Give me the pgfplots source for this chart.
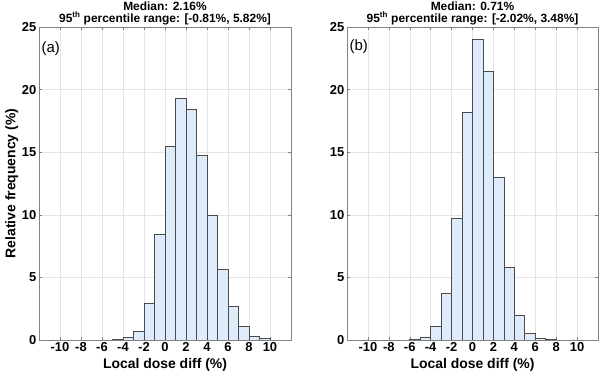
\documentclass[border=0pt]{standalone}
\usepackage{fontspec}
\setmainfont{Liberation Sans}
\usepackage{pgfplots}
\pgfplotsset{compat=1.18}

\definecolor{barfill}{RGB}{221,235,250}
\definecolor{baredge}{RGB}{75,75,75}
\definecolor{framecol}{RGB}{130,130,130}
\definecolor{gridcol}{RGB}{228,228,228}

\pgfplotsset{
  histaxis/.style={
    scale only axis, height=313bp,
    xmin=-12, xmax=12, ymin=0, ymax=25,
    xtick={-10,-8,...,10}, ytick={0,5,...,25},
    grid=major, major grid style={draw=gridcol, line width=0.5bp},
    axis line style={draw=framecol, line width=0.6bp},
    tick style={draw=framecol, line width=0.5bp},
    tick align=inside, major tick length=3bp,
    /pgf/number format/assume math mode=true,
    tick label style={font=\fontsize{13}{15}\selectfont\bfseries, text=black},
    xticklabel style={inner sep=2bp},
    yticklabel style={inner sep=2.5bp},
    xlabel style={font=\fontsize{14}{16}\selectfont\bfseries, inner sep=1bp, yshift=-4bp},
    ylabel style={font=\fontsize{14}{16}\selectfont\bfseries, inner sep=1bp},
    every axis title/.style={at={(0.5,1)}, anchor=south, inner sep=0pt,
      yshift=2bp, align=center,
      font=\fontsize{12}{12}\selectfont\bfseries},
    xlabel={Local dose diff (\%)},
  },
  histbars/.style={ybar interval, fill=barfill, draw=baredge, line width=0.7bp},
}

% Relative frequency (%) per 1 % bin; x is the left edge of each bin
\pgfplotstableread{
x    f
-5   0.05
-4   0.20
-3   0.66
-2   2.92
-1   8.42
0    15.43
1    19.31
2    18.46
3    14.77
4    9.99
5    5.68
6    2.71
7    1.06
8    0.32
9    0.10
10   0
}\histA

\pgfplotstableread{
x    f
-6   0.05
-5   0.24
-4   1.06
-3   3.72
-2   9.71
-1   18.19
0    23.99
1    21.46
2    13.03
3    5.77
4    1.94
5    0.53
6    0.13
7    0.03
8    0
}\histB

\begin{document}
\begin{tikzpicture}
\useasboundingbox (0,0) rectangle (600bp,382bp);

\begin{axis}[histaxis, width=252bp, at={(39bp,42bp)}, anchor=south west,
  ylabel={Relative frequency (\%)},
  title={Median: 2.16\%\\95\textsuperscript{th} percentile range: [-0.81\%, 5.82\%]}]
  \addplot[histbars] table[x=x, y=f] {\histA};
  \node[anchor=west, font=\fontsize{15}{17}\selectfont, inner sep=1bp] at (rel axis cs:0.006,0.93) {(a)};
\end{axis}

\begin{axis}[histaxis, width=251bp, at={(347bp,42bp)}, anchor=south west,
  title={Median: 0.71\%\\95\textsuperscript{th} percentile range: [-2.02\%, 3.48\%]}]
  \addplot[histbars] table[x=x, y=f] {\histB};
  \node[anchor=west, font=\fontsize{15}{17}\selectfont, inner sep=1bp] at (rel axis cs:0.006,0.937) {(b)};
\end{axis}
\end{tikzpicture}
\end{document}
